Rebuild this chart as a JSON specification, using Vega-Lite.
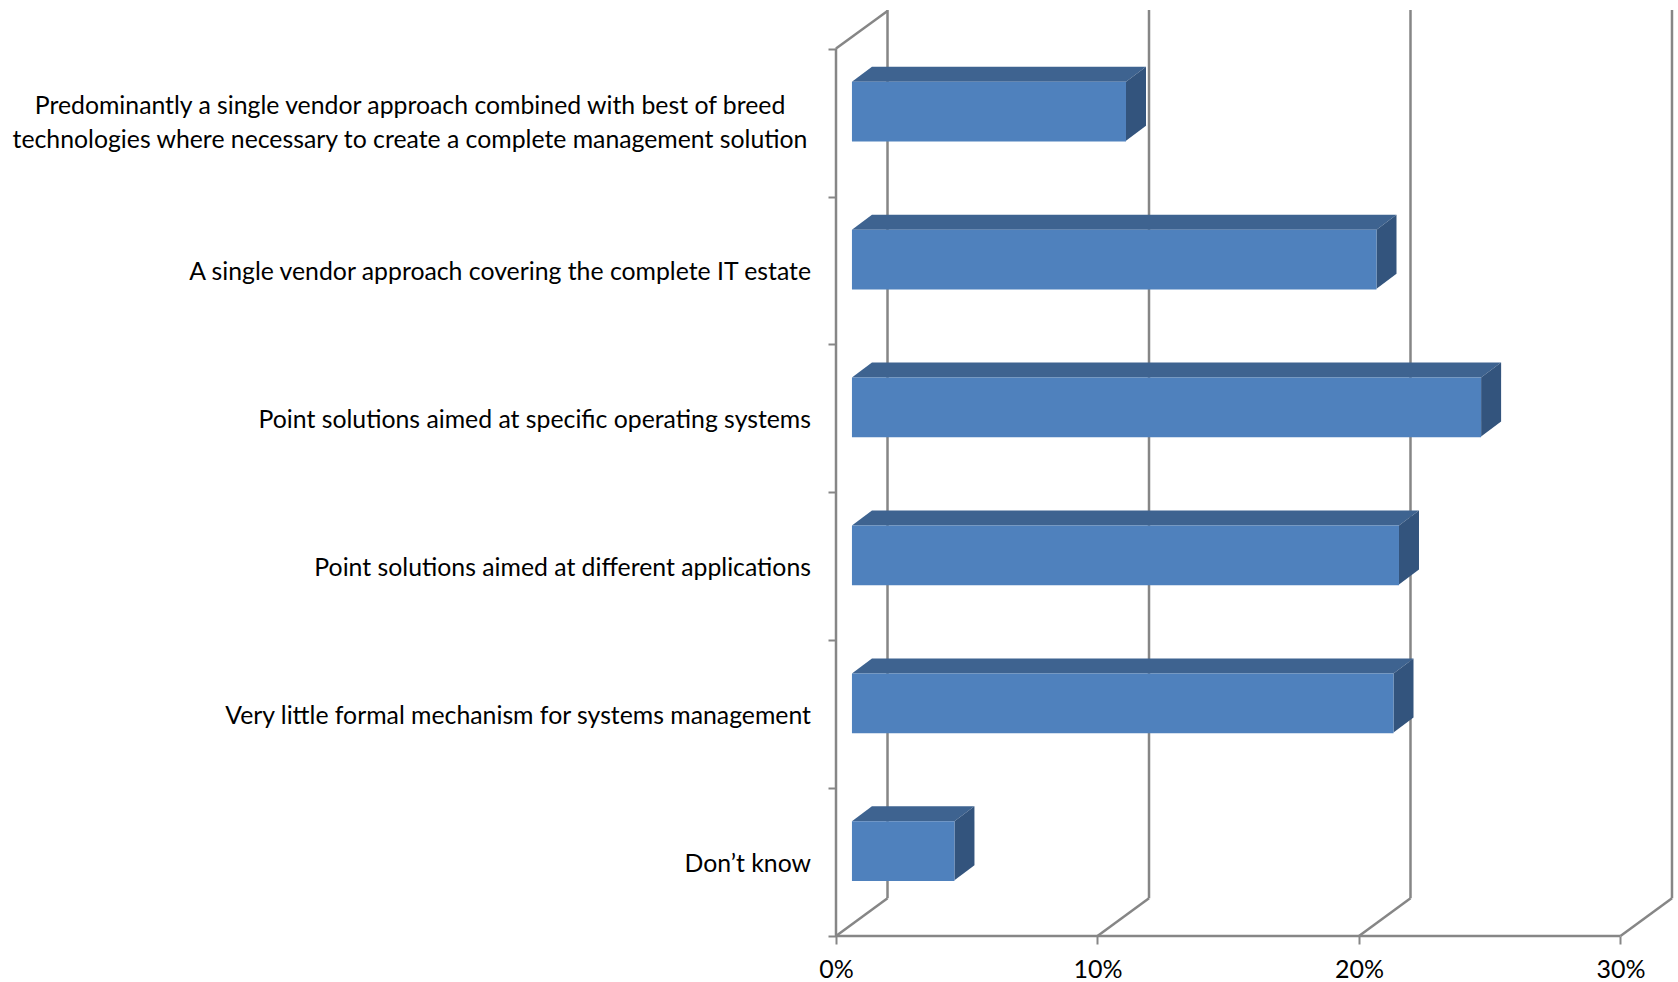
{
  "$schema": "https://vega.github.io/schema/vega-lite/v6.json",
  "autosize": {"type": "none"},
  "padding": {"left": 836, "top": 10, "right": 0, "bottom": 46},
  "width": 842,
  "height": 926,
  "background": "white",
  "view": {"stroke": null},
  "config": {"font": "Lato"},
  "datasets": {
    "answers": [
      {"answer": "Predominantly a single vendor approach combined with best of breed\ntechnologies where necessary to create a complete management solution", "slot": 5, "share": 10.48},
      {"answer": "A single vendor approach covering the complete IT estate", "slot": 4, "share": 20.06},
      {"answer": "Point solutions aimed at specific operating systems", "slot": 3, "share": 24.06},
      {"answer": "Point solutions aimed at different applications", "slot": 2, "share": 20.92},
      {"answer": "Very little formal mechanism for systems management", "slot": 1, "share": 20.71},
      {"answer": "Don’t know", "slot": 0, "share": 3.92}
    ],
    "walls": [{"tick": 0}, {"tick": 10}, {"tick": 20}, {"tick": 30}]
  },
  "layer": [
    {
      "description": "Floor diagonals running from the front axis to the back wall",
      "data": {"name": "walls"},
      "transform": [{"calculate": "datum.tick + 1.97", "as": "back"}],
      "mark": {"type": "rule", "stroke": "#868686", "strokeWidth": 2.5},
      "encoding": {
        "x": {
          "field": "tick", "type": "quantitative",
          "scale": {"domain": [0, 32.2], "nice": false},
          "axis": {
            "values": [0, 10, 20, 30], "title": null, "domain": false, "grid": false,
            "tickColor": "#868686", "tickWidth": 2, "tickSize": 8,
            "labelExpr": "datum.value + '%'", "labelFont": "Lato", "labelFontSize": 25,
            "labelColor": "#000000", "labelPadding": 13, "labelFlush": false, "labelOverlap": false
          }
        },
        "x2": {"field": "back"},
        "y": {
          "datum": 0, "type": "quantitative",
          "scale": {"domain": [0, 6.261], "nice": false, "zero": false},
          "axis": {
            "values": [0, 1, 2, 3, 4, 5, 6], "title": null, "domain": false, "grid": false,
            "labels": false, "tickColor": "#868686", "tickWidth": 2, "tickSize": 8
          }
        },
        "y2": {"datum": 0.255}
      }
    },
    {
      "description": "Vertical gridlines on the back wall",
      "data": {"name": "walls"},
      "transform": [{"calculate": "datum.tick + 1.97", "as": "back"}],
      "mark": {"type": "rule", "stroke": "#868686", "strokeWidth": 2.5},
      "encoding": {
        "x": {"field": "back", "type": "quantitative"},
        "y": {"datum": 0.255, "type": "quantitative"},
        "y2": {"datum": 6.261}
      }
    },
    {
      "description": "Front value axis line",
      "data": {"name": "walls"},
      "transform": [{"filter": "datum.tick === 0"}],
      "mark": {"type": "rule", "stroke": "#868686", "strokeWidth": 2.5},
      "encoding": {
        "x": {"datum": 0, "type": "quantitative"},
        "x2": {"datum": 30},
        "y": {"datum": 0, "type": "quantitative"}
      }
    },
    {
      "description": "Front category axis line",
      "data": {"name": "walls"},
      "transform": [{"filter": "datum.tick === 0"}],
      "mark": {"type": "rule", "stroke": "#868686", "strokeWidth": 2.5},
      "encoding": {
        "x": {"datum": 0, "type": "quantitative"},
        "y": {"datum": 0, "type": "quantitative"},
        "y2": {"datum": 6}
      }
    },
    {
      "description": "Upper edge of the side wall",
      "data": {"name": "walls"},
      "transform": [{"filter": "datum.tick === 0"}],
      "mark": {"type": "rule", "stroke": "#868686", "strokeWidth": 2.5},
      "encoding": {
        "x": {"datum": 0, "type": "quantitative"},
        "x2": {"datum": 1.97},
        "y": {"datum": 6, "type": "quantitative"},
        "y2": {"datum": 6.255}
      }
    },
    {
      "description": "Top face of each bar",
      "data": {"name": "answers"},
      "transform": [
        {"calculate": "[0, 1]", "as": "step"},
        {"flatten": ["step"]},
        {"calculate": "0.61 + datum.step * 0.765", "as": "left"},
        {"calculate": "0.61 + datum.share + datum.step * 0.765", "as": "right"},
        {"calculate": "datum.slot + 0.7755 + datum.step * 0.1014", "as": "level"}
      ],
      "mark": {"type": "area", "orient": "horizontal", "color": "#3e6390"},
      "encoding": {
        "y": {"field": "level", "type": "quantitative", "stack": null},
        "x": {"field": "left", "type": "quantitative"},
        "x2": {"field": "right"},
        "detail": {"field": "answer"}
      }
    },
    {
      "description": "Side face of each bar",
      "data": {"name": "answers"},
      "transform": [
        {"calculate": "[0, 1]", "as": "step"},
        {"flatten": ["step"]},
        {"calculate": "0.61 + datum.share + datum.step * 0.765", "as": "edge"},
        {"calculate": "datum.slot + 0.3766 + datum.step * 0.1014", "as": "low"},
        {"calculate": "datum.slot + 0.7755 + datum.step * 0.1014", "as": "high"}
      ],
      "mark": {"type": "area", "orient": "vertical", "color": "#33547d"},
      "encoding": {
        "x": {"field": "edge", "type": "quantitative"},
        "y": {"field": "low", "type": "quantitative", "stack": null},
        "y2": {"field": "high"},
        "detail": {"field": "answer"}
      }
    },
    {
      "description": "Front face of each bar",
      "data": {"name": "answers"},
      "transform": [
        {"calculate": "0.61", "as": "start"},
        {"calculate": "0.61 + datum.share", "as": "end"},
        {"calculate": "datum.slot + 0.3716", "as": "low"},
        {"calculate": "datum.slot + 0.7755", "as": "high"}
      ],
      "mark": {"type": "rect", "color": "#4f81bd"},
      "encoding": {
        "x": {"field": "start", "type": "quantitative"},
        "x2": {"field": "end"},
        "y": {"field": "low", "type": "quantitative"},
        "y2": {"field": "high"}
      }
    },
    {
      "description": "Single-line category labels, right-aligned against the axis",
      "data": {"name": "answers"},
      "transform": [
        {"filter": "indexof(datum.answer, '\\n') < 0"},
        {"calculate": "datum.slot + 0.482", "as": "middle"}
      ],
      "mark": {
        "type": "text", "align": "right", "baseline": "middle", "dx": -25,
        "font": "Lato", "fontSize": 24.8, "color": "#000000"
      },
      "encoding": {
        "x": {"datum": 0, "type": "quantitative"},
        "y": {"field": "middle", "type": "quantitative"},
        "text": {"field": "answer"}
      }
    },
    {
      "description": "The wrapped category label, with its two lines centred on each other",
      "data": {"name": "answers"},
      "transform": [
        {"filter": "indexof(datum.answer, '\\n') >= 0"},
        {"calculate": "datum.slot + 0.603", "as": "middle"}
      ],
      "mark": {
        "type": "text", "align": "center", "baseline": "middle", "dx": -426,
        "font": "Lato", "fontSize": 24.8, "lineBreak": "\n", "lineHeight": 34, "color": "#000000"
      },
      "encoding": {
        "x": {"datum": 0, "type": "quantitative"},
        "y": {"field": "middle", "type": "quantitative"},
        "text": {"field": "answer"}
      }
    }
  ]
}
